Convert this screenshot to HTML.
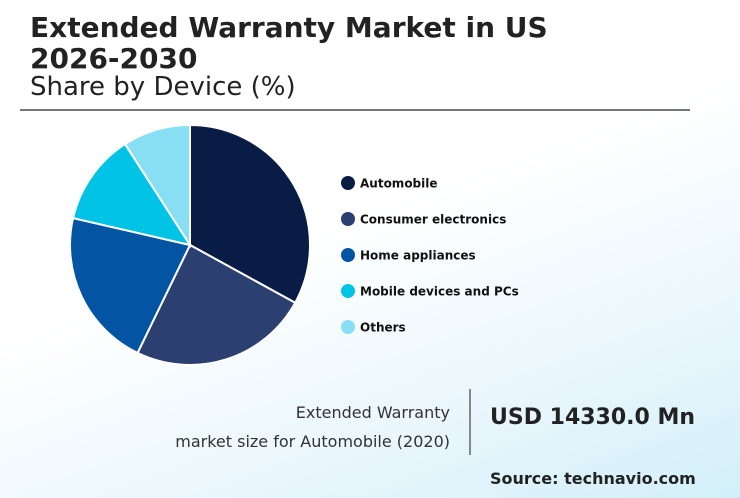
<!DOCTYPE html>
<html><head><meta charset="utf-8"><style>
body{margin:0;width:740px;height:498px;overflow:hidden;font-family:"DejaVu Sans","Liberation Sans",sans-serif;}
#bg{position:absolute;left:0;top:0;width:740px;height:498px;background:linear-gradient(160deg,#ffffff 0%,#ffffff 45%,#eaf7fc 75%,#d2eff9 100%);}
.t{position:absolute;color:#222;white-space:nowrap;}
</style></head><body>
<div id="bg"></div>
<div class="t" style="left:30px;top:12px;font-size:28px;font-weight:bold;line-height:31px;">Extended Warranty Market in US<br>2026-2030</div>
<div class="t" style="left:30px;top:72px;font-size:26px;">Share by Device (%)</div>
<div style="position:absolute;left:20px;top:109px;width:670px;height:2px;background:#777;"></div>
<svg id="pie" width="740" height="498" style="position:absolute;left:0;top:0"></svg>
<div style="position:absolute;left:469px;top:389px;width:2px;height:66px;background:#888;"></div>
<div class="t" style="right:290px;top:398px;font-size:16px;text-align:right;line-height:29px;color:#333;">Extended Warranty<br>market size for Automobile (2020)</div>
<div class="t" style="left:490px;top:405px;font-size:22px;font-weight:bold;">USD 14330.0 Mn</div>
<div class="t" style="left:490px;top:469px;font-size:16px;font-weight:bold;">Source: technavio.com</div>
<script>
const categories=["Automobile","Consumer electronics","Home appliances","Mobile devices and PCs","Others"];
const shares=[33,24.2,21.4,12.3,9.1];
const colors=["#081c45","#2b3f70","#0355a4","#00c3e6","#88dff3"];
const svg=document.getElementById('pie');
const NS='http://www.w3.org/2000/svg';
const cx=190,cy=245,r=120;
const total=shares.reduce((a,b)=>a+b,0);
let a0=0;
function pt(a){return [cx+r*Math.sin(a),cy-r*Math.cos(a)];}
shares.forEach((v,i)=>{
  const a1=a0+v/total*2*Math.PI;
  const p0=pt(a0),p1=pt(a1);
  const p=document.createElementNS(NS,'path');
  p.setAttribute('d',`M${cx},${cy}L${p0[0]},${p0[1]}A${r},${r} 0 ${a1-a0>Math.PI?1:0} 1 ${p1[0]},${p1[1]}Z`);
  p.setAttribute('fill',colors[i]);p.setAttribute('stroke','#fff');p.setAttribute('stroke-width','2');
  
  
  svg.appendChild(p);
  a0=a1;
  const y=183+i*36;
  const c=document.createElementNS(NS,'circle');
  c.setAttribute('cx',348);c.setAttribute('cy',y);c.setAttribute('r',7);c.setAttribute('fill',colors[i]);
  
  
  svg.appendChild(c);
  const t=document.createElementNS(NS,'text');
  t.setAttribute('x',360);t.setAttribute('y',y+4.5);t.setAttribute('font-size','12');t.setAttribute('font-weight','bold');
  t.setAttribute('font-family','DejaVu Sans, Liberation Sans, sans-serif');t.setAttribute('fill','#111');
  t.textContent=categories[i];
  
  
  svg.appendChild(t);
});
</script>
</body></html>
